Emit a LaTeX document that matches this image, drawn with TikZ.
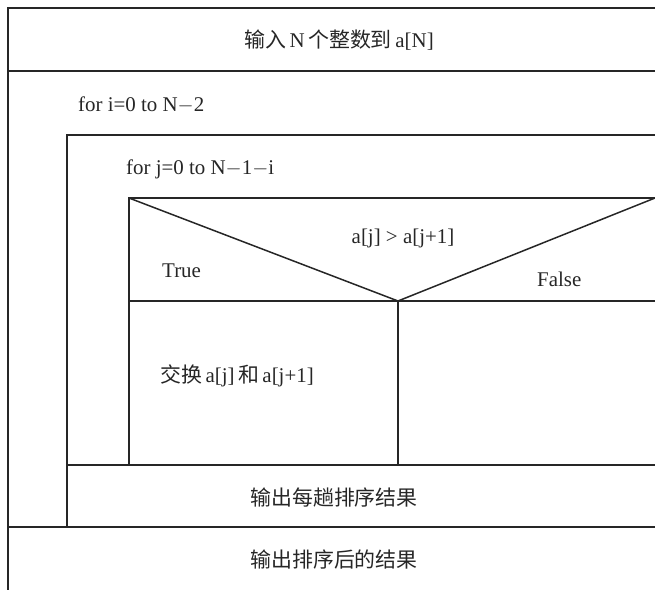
\documentclass[tikz,border=0pt]{standalone}
\usepackage{fontspec}
\setmainfont{Liberation Serif}
\newfontfamily\cjk{Noto Sans CJK SC}
\begin{document}
\begin{tikzpicture}[x=1bp,y=-1bp,
  nsline/.style={line width=1.5bp,draw=black!85},
  lbl/.style={font=\fontsize{21}{24}\selectfont,inner sep=0pt,text=black!85}]
\useasboundingbox (0,0) rectangle (655,590);
% outer frame
\draw[nsline] (8,590) -- (8,8) -- (655,8);
\draw[nsline] (8,71) -- (655,71);
\draw[nsline] (8,527) -- (655,527);
% outer loop body
\draw[nsline] (67,527) -- (67,135) -- (655,135);
\draw[nsline] (67,465) -- (655,465);
% inner loop body
\draw[nsline] (129,465) -- (129,198) -- (655,198);
% decision
\coordinate (apex) at (398,301);
\draw[nsline] (129,198) -- (apex) -- (655,198);
\draw[nsline] (129,301) -- (655,301);
\draw[nsline] (apex) -- (398,465);
% texts
\node[lbl] (t1) at (339,40) {{\cjk 输入}\,N\,{\cjk 个整数到}\,a[N]};
\node[lbl,anchor=west] (t2) at (78,105) {for i=0 to N$-$2};
\node[lbl,anchor=west] (t3) at (126,169) {for j=0 to N$-$1$-$i};
\node[lbl] (t4) at (403,238) {a[j] > a[j+1]};
\node[lbl,anchor=west] (t5) at (162,271) {True};
\node[lbl,anchor=west] (t6) at (537,279) {False};
\node[lbl,anchor=west] (t7) at (160,376) {{\cjk 交换}\,a[j]\,{\cjk 和}\,a[j+1]};
\node[lbl] (t8) at (334,498) {\cjk 输出每趟排序结果};
\node[lbl] (t9) at (334,560) {\cjk 输出排序后的结果};
\end{tikzpicture}
\end{document}
